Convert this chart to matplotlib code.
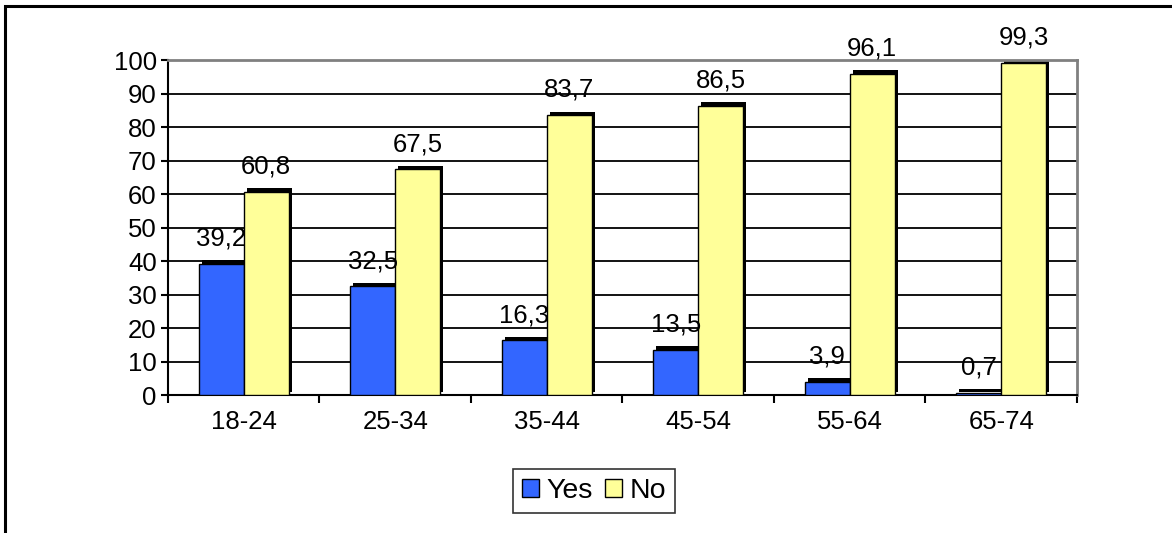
import matplotlib
matplotlib.use("Agg")
import matplotlib.pyplot as plt
import matplotlib.transforms as mtransforms
from matplotlib.patches import Patch, Rectangle
import numpy as np

plt.rcParams['font.family'] = ['Liberation Sans', 'DejaVu Sans']

age_groups = ["18-24", "25-34", "35-44", "45-54", "55-64", "65-74"]
yes_vals = [39.2, 32.5, 16.3, 13.5, 3.9, 0.7]
no_vals = [60.8, 67.5, 83.7, 86.5, 96.1, 99.3]
yes_labels = ["39,2", "32,5", "16,3", "13,5", "3,9", "0,7"]
no_labels = ["60,8", "67,5", "83,7", "86,5", "96,1", "99,3"]

blue = "#3366FF"
yellow = "#FFFF99"
fs = 18.5

fig = plt.figure(figsize=(11.72, 5.33), dpi=100)
ax = fig.add_axes([0.1433, 0.2589, 0.7756, 0.6276])

# outer chart frame (only left/top edges fall inside the image)
fig.patches.append(Rectangle((5 / 1172, -0.1), 1.2, (533 - 6) / 533 + 0.1,
                             transform=fig.transFigure, fill=False,
                             edgecolor="black", linewidth=2.2, zorder=0))

x = np.arange(len(age_groups))
w = 0.297

# drop shadow offset up and right by a few pixels
shadow = ax.transData + mtransforms.ScaledTranslation(3 / 100, 3.5 / 100, fig.dpi_scale_trans)
for off, vals, col in [(-w / 2, yes_vals, blue), (w / 2, no_vals, yellow)]:
    ax.bar(x + off, vals, w, color="black", transform=shadow, zorder=2)
    ax.bar(x + off, vals, w, color=col, edgecolor="black", linewidth=1.0, zorder=3)

for i in range(len(age_groups)):
    ax.annotate(yes_labels[i], (x[i] - w / 2, yes_vals[i]), xytext=(0, 13),
                textcoords="offset points", ha="center", va="baseline", fontsize=fs, zorder=5)
    ax.annotate(no_labels[i], (x[i] + w / 2, no_vals[i]), xytext=(0, 13),
                textcoords="offset points", ha="center", va="baseline", fontsize=fs, zorder=5)

ax.set_xlim(-0.5, len(age_groups) - 0.5)
ax.set_ylim(0, 100)
ax.set_yticks(range(0, 101, 10))
ax.set_xticks(x)
ax.set_xticklabels(age_groups)
ax.set_xticks(np.arange(-0.5, len(age_groups), 1.0), minor=True)
ax.tick_params(axis="x", which="major", length=0, pad=11, labelsize=fs)
ax.tick_params(axis="x", which="minor", length=6, width=1.5, direction="out")
ax.tick_params(axis="y", length=5, width=1.5, direction="out", pad=3, labelsize=fs)

ax.yaxis.grid(True, color="black", linewidth=1.3)
ax.set_axisbelow(True)
for side in ["top", "right"]:
    ax.spines[side].set_color("#808080")
    ax.spines[side].set_linewidth(2)
for side in ["left", "bottom"]:
    ax.spines[side].set_color("black")
    ax.spines[side].set_linewidth(1.5)

handles = [Patch(facecolor=blue, edgecolor="black", label="Yes"),
           Patch(facecolor=yellow, edgecolor="black", label="No")]
leg = fig.legend(handles=handles, loc="center", bbox_to_anchor=(0.436, 0.0356, 0.1416, 0.0863),
                 ncol=2, frameon=True, fancybox=False, fontsize=20.5, handlelength=0.6,
                 handleheight=0.6, handletextpad=0.25, columnspacing=0.45, borderpad=0.3)
leg.get_frame().set_edgecolor("black")
leg.get_frame().set_linewidth(1.2)

fig.savefig("out.png", dpi=100)
